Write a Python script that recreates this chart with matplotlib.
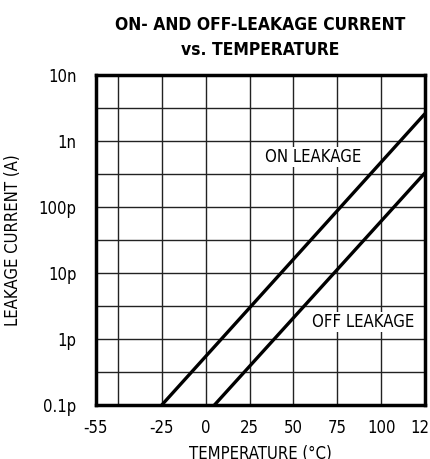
import numpy as np
import matplotlib.pyplot as plt

# leakage lines (temperature in C, current in A)
on_temp = [-25, 125]
on_current = [1e-13, 2.6e-9]
off_temp = [5, 125]
off_current = [1e-13, 3.3e-10]

x_tick_pos = [-62.5, -25, 0, 25, 50, 75, 100, 125]
x_tick_labels = ['-55', '-25', '0', '25', '50', '75', '100', '125']
y_tick_pos = [1e-13, 1e-12, 1e-11, 1e-10, 1e-9, 1e-8]
y_tick_labels = ['0.1p', '1p', '10p', '100p', '1n', '10n']

plt.rcParams['font.family'] = ['DejaVu Sans']
plt.rcParams['font.stretch'] = 'condensed'

fig = plt.figure(figsize=(4.3, 4.59), dpi=100)
ax = fig.add_axes([96/430, 1 - 405/459, 329/430, 330/459])

ax.set_xlim(-62.5, 125)
ax.set_yscale('log')
ax.set_ylim(1e-13, 1e-8)

# grid: every 25 C, every half decade
for t in np.arange(-50, 125, 25):
    ax.axvline(t, color='#222222', lw=1.0, zorder=1)
for e in np.arange(-12.5, -8, 0.5):
    ax.axhline(10**e, color='#222222', lw=1.0, zorder=1)

ax.plot(on_temp, on_current, color='black', lw=2.4, zorder=3, solid_capstyle='butt')
ax.plot(off_temp, off_current, color='black', lw=2.4, zorder=3, solid_capstyle='butt')

ax.text(61.5, 10**-9.24, 'ON LEAKAGE', fontsize=12, ha='center', va='center',
        zorder=4, bbox=dict(facecolor='white', edgecolor='none', pad=1))
ax.text(89.5, 10**-11.74, 'OFF LEAKAGE', fontsize=12, ha='center', va='center',
        zorder=4, bbox=dict(facecolor='white', edgecolor='none', pad=1))

ax.set_xticks(x_tick_pos)
ax.set_xticklabels(x_tick_labels)
ax.set_yticks(y_tick_pos)
ax.set_yticklabels(y_tick_labels)
ax.minorticks_off()
ax.tick_params(axis='both', length=0, labelsize=12)
ax.tick_params(axis='x', pad=10)
ax.tick_params(axis='y', pad=14)

for s in ax.spines.values():
    s.set_linewidth(2.5)
    s.set_zorder(5)

ax.set_xlabel('TEMPERATURE (°C)', fontsize=12, labelpad=6)
ax.set_ylabel('LEAKAGE CURRENT (A)', fontsize=12, labelpad=12)

fig.text(260/430, 1 - 25/459, 'ON- AND OFF-LEAKAGE CURRENT', fontsize=12.5,
         fontweight='bold', ha='center', va='center')
fig.text(260/430, 1 - 50/459, 'vs. TEMPERATURE', fontsize=12.5,
         fontweight='bold', ha='center', va='center')

fig.savefig('out.png', dpi=100)
